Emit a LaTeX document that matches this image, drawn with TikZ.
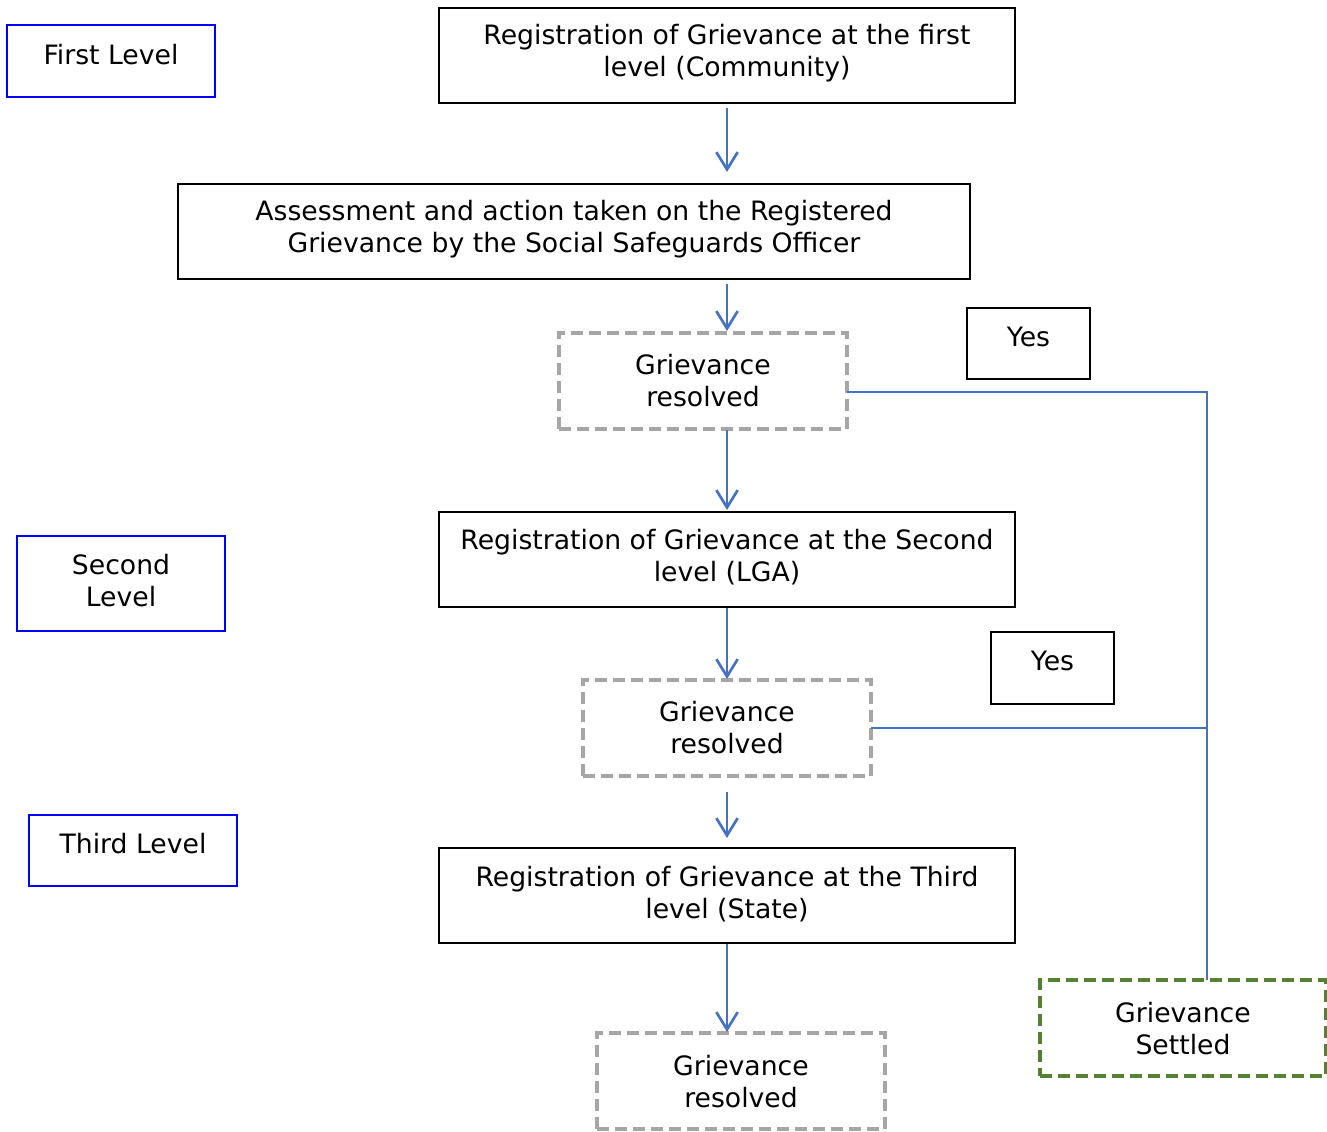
\documentclass[tikz,border=0pt]{standalone}
\usepackage{fontspec}
\setmainfont{DejaVu Sans}
\usetikzlibrary{arrows.meta}
\definecolor{lnblue}{HTML}{4472C4}
\definecolor{lvblue}{HTML}{0000FF}
\definecolor{dgray}{HTML}{A6A6A6}
\definecolor{dgreen}{HTML}{548235}
\begin{document}
\begin{tikzpicture}[x=0.75pt,y=-0.75pt,
  boxbase/.style={rectangle, inner sep=0pt, outer sep=0pt},
  solidbox/.style={boxbase, draw=black, line width=1.8pt},
  levelbox/.style={boxbase, draw=lvblue, line width=1.8pt},
  grayd/.style={boxbase, draw=dgray, line width=2.4pt, dash pattern=on 9pt off 4.5pt},
  greend/.style={boxbase, draw=dgreen, line width=2.4pt, dash pattern=on 9pt off 4.5pt},
  txt/.style={align=center, inner sep=0pt, font=\fontsize{20}{24}\selectfont},
  flow/.style={draw=lnblue, line width=2pt, -{Straight Barb[length=13pt,width=16pt,line width=2pt]}},
  conn/.style={draw=lnblue, line width=2pt}
]
\useasboundingbox (0,0) rectangle (1327,1131);
\node[solidbox, minimum width=576*0.75pt, minimum height=95*0.75pt] (r1) at (727,55.5) {};
\node[solidbox, minimum width=792*0.75pt, minimum height=95*0.75pt] (as) at (574,231.5) {};
\node[grayd, minimum width=288*0.75pt, minimum height=96*0.75pt] (g1) at (703,381) {};
\node[solidbox, minimum width=123*0.75pt, minimum height=71*0.75pt] (y1) at (1028.5,343.5) {};
\node[solidbox, minimum width=576*0.75pt, minimum height=95*0.75pt] (r2) at (727,559.5) {};
\node[grayd, minimum width=288*0.75pt, minimum height=96*0.75pt] (g2) at (727,728) {};
\node[solidbox, minimum width=123*0.75pt, minimum height=72*0.75pt] (y2) at (1052.5,668) {};
\node[solidbox, minimum width=576*0.75pt, minimum height=95*0.75pt] (r3) at (727,895.5) {};
\node[grayd, minimum width=288*0.75pt, minimum height=96*0.75pt] (g3) at (741,1081) {};
\node[greend, minimum width=286*0.75pt, minimum height=96*0.75pt] (gs) at (1183,1028) {};
\node[levelbox, minimum width=208*0.75pt, minimum height=72*0.75pt] (l1) at (111,61) {};
\node[levelbox, minimum width=208*0.75pt, minimum height=95*0.75pt] (l2) at (121,583.5) {};
\node[levelbox, minimum width=208*0.75pt, minimum height=71*0.75pt] (l3) at (133,850.5) {};
% texts
\node[txt] (t-r1) at (727,53) {Registration of Grievance at the first\\level (Community)};
\node[txt] (t-as) at (574,229) {Assessment and action taken on the Registered\\Grievance by the Social Safeguards Officer};
\node[txt] (t-g1) at (703,381) {Grievance\\resolved};
\node[txt] (t-y1) at (1028.5,337) {Yes};
\node[txt] (t-r2) at (727,557) {Registration of Grievance at the Second\\level (LGA)};
\node[txt] (t-g2) at (727,728) {Grievance\\resolved};
\node[txt] (t-y2) at (1052.5,661) {Yes};
\node[txt] (t-r3) at (727,894) {Registration of Grievance at the Third\\level (State)};
\node[txt] (t-g3) at (741,1082) {Grievance\\resolved};
\node[txt] (t-gs) at (1183,1029) {Grievance\\Settled};
\node[txt] (t-l1) at (111,55) {First Level};
\node[txt] (t-l2) at (121,581) {Second\\Level};
\node[txt] (t-l3) at (133,844) {Third Level};
% flow arrows
\coordinate (a1s) at (727,108); \coordinate (a1e) at (727,172);
\coordinate (a2s) at (727,284); \coordinate (a2e) at (727,331);
\coordinate (a3s) at (727,430); \coordinate (a3e) at (727,510);
\coordinate (a4s) at (727,608); \coordinate (a4e) at (727,679);
\coordinate (a5s) at (727,792); \coordinate (a5e) at (727,838);
\coordinate (a6s) at (727,944); \coordinate (a6e) at (727,1032);
\draw[flow] (a1s) -- (a1e);
\draw[flow] (a2s) -- (a2e);
\draw[flow] (a3s) -- (a3e);
\draw[flow] (a4s) -- (a4e);
\draw[flow] (a5s) -- (a5e);
\draw[flow] (a6s) -- (a6e);
% yes connectors
\coordinate (c1) at (1207,392);
\coordinate (c2) at (1207,728);
\draw[conn] (g1.east |- c1) -- (c1) -- (c1 |- gs.north);
\draw[conn] (g2.east) -- (c2);
\end{tikzpicture}
\end{document}
